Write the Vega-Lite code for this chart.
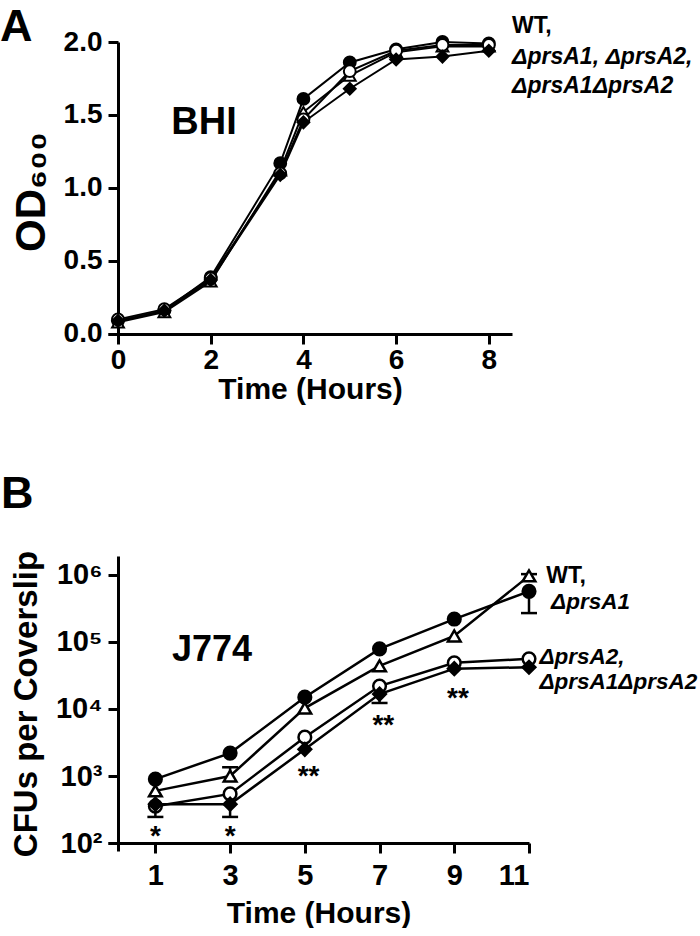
{
  "$schema": "https://vega.github.io/schema/vega-lite/v6.json",
  "background": "white",
  "padding": {"left": 0, "top": 4, "right": 0, "bottom": 0},
  "datasets": {
    "growth": [
      {"x": 0, "y": 0.09, "strain": "WT"}, {"x": 1, "y": 0.16, "strain": "WT"}, {"x": 2, "y": 0.39, "strain": "WT"}, {"x": 3.5, "y": 1.17, "strain": "WT"}, {"x": 4, "y": 1.61, "strain": "WT"}, {"x": 5, "y": 1.86, "strain": "WT"}, {"x": 6, "y": 1.95, "strain": "WT"}, {"x": 7, "y": 2.0, "strain": "WT"}, {"x": 8, "y": 1.99, "strain": "WT"},
      {"x": 0, "y": 0.08, "strain": "ΔprsA1"}, {"x": 1, "y": 0.15, "strain": "ΔprsA1"}, {"x": 2, "y": 0.36, "strain": "ΔprsA1"}, {"x": 3.5, "y": 1.12, "strain": "ΔprsA1"}, {"x": 4, "y": 1.52, "strain": "ΔprsA1"}, {"x": 5, "y": 1.77, "strain": "ΔprsA1"}, {"x": 6, "y": 1.93, "strain": "ΔprsA1"}, {"x": 7, "y": 1.97, "strain": "ΔprsA1"}, {"x": 8, "y": 1.97, "strain": "ΔprsA1"},
      {"x": 0, "y": 0.1, "strain": "ΔprsA2"}, {"x": 1, "y": 0.17, "strain": "ΔprsA2"}, {"x": 2, "y": 0.38, "strain": "ΔprsA2"}, {"x": 3.5, "y": 1.1, "strain": "ΔprsA2"}, {"x": 4, "y": 1.47, "strain": "ΔprsA2"}, {"x": 5, "y": 1.8, "strain": "ΔprsA2"}, {"x": 6, "y": 1.94, "strain": "ΔprsA2"}, {"x": 7, "y": 1.98, "strain": "ΔprsA2"}, {"x": 8, "y": 1.98, "strain": "ΔprsA2"},
      {"x": 0, "y": 0.09, "strain": "ΔprsA1ΔprsA2"}, {"x": 1, "y": 0.16, "strain": "ΔprsA1ΔprsA2"}, {"x": 2, "y": 0.37, "strain": "ΔprsA1ΔprsA2"}, {"x": 3.5, "y": 1.09, "strain": "ΔprsA1ΔprsA2"}, {"x": 4, "y": 1.45, "strain": "ΔprsA1ΔprsA2"}, {"x": 5, "y": 1.68, "strain": "ΔprsA1ΔprsA2"}, {"x": 6, "y": 1.88, "strain": "ΔprsA1ΔprsA2"}, {"x": 7, "y": 1.9, "strain": "ΔprsA1ΔprsA2"}, {"x": 8, "y": 1.94, "strain": "ΔprsA1ΔprsA2"}
    ],
    "cfu": [
      {"x": 1, "y": 900, "strain": "WT"}, {"x": 3, "y": 2200, "strain": "WT"}, {"x": 5, "y": 15000, "strain": "WT"}, {"x": 7, "y": 79000, "strain": "WT"}, {"x": 9, "y": 220000, "strain": "WT"}, {"x": 11, "y": 570000, "strain": "WT"},
      {"x": 1, "y": 600, "strain": "ΔprsA1"}, {"x": 3, "y": 1000, "strain": "ΔprsA1"}, {"x": 5, "y": 10300, "strain": "ΔprsA1"}, {"x": 7, "y": 44000, "strain": "ΔprsA1"}, {"x": 9, "y": 123000, "strain": "ΔprsA1"}, {"x": 11, "y": 970000, "strain": "ΔprsA1"},
      {"x": 1, "y": 355, "strain": "ΔprsA2"}, {"x": 3, "y": 540, "strain": "ΔprsA2"}, {"x": 5, "y": 3800, "strain": "ΔprsA2"}, {"x": 7, "y": 22000, "strain": "ΔprsA2"}, {"x": 9, "y": 49000, "strain": "ΔprsA2"}, {"x": 11, "y": 56000, "strain": "ΔprsA2"},
      {"x": 1, "y": 380, "strain": "ΔprsA1ΔprsA2"}, {"x": 3, "y": 380, "strain": "ΔprsA1ΔprsA2"}, {"x": 5, "y": 2500, "strain": "ΔprsA1ΔprsA2"}, {"x": 7, "y": 16700, "strain": "ΔprsA1ΔprsA2"}, {"x": 9, "y": 40000, "strain": "ΔprsA1ΔprsA2"}, {"x": 11, "y": 42000, "strain": "ΔprsA1ΔprsA2"}
    ],
    "err": [
      {"x": 1, "y": 380, "y2": 245, "strain": "ΔprsA1ΔprsA2"},
      {"x": 3, "y": 380, "y2": 245, "strain": "ΔprsA1ΔprsA2"},
      {"x": 3, "y": 1000, "y2": 1350, "strain": "ΔprsA1"},
      {"x": 7, "y": 16700, "y2": 12300, "strain": "ΔprsA1ΔprsA2"},
      {"x": 11, "y": 570000, "y2": 270000, "strain": "WT"},
      {"x": 11, "y": 970000, "y2": 1030000, "strain": "ΔprsA1"}
    ]
  },
  "config": {
    "font": "Liberation Sans",
    "view": {"stroke": null},
    "axis": {
      "domainColor": "black", "domainWidth": 3, "tickColor": "black", "tickWidth": 3, "tickSize": 10,
      "labelFont": "Liberation Sans", "labelFontWeight": "bold", "labelColor": "black",
      "titleFont": "Liberation Sans", "titleFontWeight": "bold", "titleColor": "black", "grid": false
    }
  },
  "resolve": {"scale": {"x": "independent", "y": "independent"}},
  "bounds": "flush",
  "spacing": 215,
  "vconcat": [
    {
      "width": 404,
      "height": 299,
      "layer": [
        {
          "data": {"name": "growth"},
          "mark": {"type": "line", "color": "black", "strokeWidth": 2},
          "encoding": {
            "x": {"field": "x", "type": "quantitative", "scale": {"domain": [-0.216, 8.5], "nice": false, "zero": false},
              "axis": {"values": [0, 2, 4, 6, 8], "offset": -7, "title": "Time (Hours)", "labelFontSize": 28, "labelPadding": 2, "titleFontSize": 30, "titlePadding": 0}},
            "y": {"field": "y", "type": "quantitative", "scale": {"domain": [-0.048, 2], "nice": false, "zero": false},
              "axis": {"values": [0, 0.5, 1, 1.5, 2], "offset": -10, "format": ".1f", "title": "OD₆₀₀", "titleFont": "Liberation Sans Narrow, Liberation Sans", "labelFontSize": 28, "labelPadding": 6, "titleFontSize": 42, "titlePadding": 10}},
            "detail": {"field": "strain"}
          }
        },
        {
          "data": {"name": "growth"},
          "mark": {"type": "point", "filled": true, "stroke": "black", "strokeWidth": 2, "size": 140, "opacity": 1},
          "encoding": {
            "x": {"field": "x", "type": "quantitative", "scale": {"domain": [-0.216, 8.5], "nice": false, "zero": false}},
            "y": {"field": "y", "type": "quantitative", "scale": {"domain": [-0.048, 2], "nice": false, "zero": false}},
            "shape": {"field": "strain", "type": "nominal", "scale": {"domain": ["WT", "ΔprsA1", "ΔprsA2", "ΔprsA1ΔprsA2"], "range": ["circle", "triangle-up", "circle", "diamond"]}, "legend": null},
            "fill": {"field": "strain", "type": "nominal", "scale": {"domain": ["WT", "ΔprsA1", "ΔprsA2", "ΔprsA1ΔprsA2"], "range": ["black", "white", "white", "black"]}, "legend": null}
          }
        },
        {
          "data": {"values": [{"x": -2.546, "y": 2.007, "label": "A"}]},
          "mark": {"type": "text", "align": "left", "baseline": "alphabetic", "fontSize": 45, "fontWeight": "bold", "color": "black"},
          "encoding": {
            "x": {"field": "x", "type": "quantitative", "scale": {"domain": [-0.216, 8.5], "nice": false, "zero": false}},
            "y": {"field": "y", "type": "quantitative", "scale": {"domain": [-0.048, 2], "nice": false, "zero": false}},
            "text": {"field": "label"}
          }
        },
        {
          "data": {"values": [{"x": 1.855, "y": 1.37, "label": "BHI"}]},
          "mark": {"type": "text", "align": "center", "baseline": "alphabetic", "fontSize": 38, "fontWeight": "bold", "color": "black"},
          "encoding": {
            "x": {"field": "x", "type": "quantitative", "scale": {"domain": [-0.216, 8.5], "nice": false, "zero": false}},
            "y": {"field": "y", "type": "quantitative", "scale": {"domain": [-0.048, 2], "nice": false, "zero": false}},
            "text": {"field": "label"}
          }
        },
        {
          "data": {"values": [{"x": 8.5, "y": 2.062, "label": "WT,"}]},
          "mark": {"type": "text", "align": "left", "baseline": "alphabetic", "fontSize": 23, "fontWeight": "bold", "color": "black"},
          "encoding": {
            "x": {"field": "x", "type": "quantitative", "scale": {"domain": [-0.216, 8.5], "nice": false, "zero": false}},
            "y": {"field": "y", "type": "quantitative", "scale": {"domain": [-0.048, 2], "nice": false, "zero": false}},
            "text": {"field": "label"}
          }
        },
        {
          "data": {"values": [{"x": 8.5, "y": 1.849, "label": "ΔprsA1, ΔprsA2,"}, {"x": 8.5, "y": 1.651, "label": "ΔprsA1ΔprsA2"}]},
          "mark": {"type": "text", "align": "left", "baseline": "alphabetic", "fontSize": 23, "fontWeight": "bold", "fontStyle": "italic", "color": "black"},
          "encoding": {
            "x": {"field": "x", "type": "quantitative", "scale": {"domain": [-0.216, 8.5], "nice": false, "zero": false}},
            "y": {"field": "y", "type": "quantitative", "scale": {"domain": [-0.048, 2], "nice": false, "zero": false}},
            "text": {"field": "label"}
          }
        }
      ]
    },
    {
      "width": 421,
      "height": 295,
      "layer": [
        {
          "data": {"name": "cfu"},
          "mark": {"type": "line", "color": "black", "strokeWidth": 2.5},
          "encoding": {
            "x": {"field": "x", "type": "quantitative", "scale": {"domain": [-0.268, 11], "nice": false, "zero": false},
              "axis": {"values": [1, 3, 5, 7, 9, 11], "offset": -8, "title": "Time (Hours)", "labelFontSize": 29, "labelPadding": 8, "titleFontSize": 30, "titlePadding": 8}},
            "y": {"field": "y", "type": "quantitative", "scale": {"type": "log", "domain": [76, 1920000], "nice": false},
              "axis": {"values": [100, 1000, 10000, 100000, 1000000], "offset": -10, "labelExpr": "datum.value == 100 ? '10²' : datum.value == 1000 ? '10³' : datum.value == 10000 ? '10⁴' : datum.value == 100000 ? '10⁵' : '10⁶'", "title": "CFUs per Coverslip", "labelFontSize": 29, "labelPadding": 6, "titleFontSize": 33, "titlePadding": 12}},
            "detail": {"field": "strain"}
          }
        },
        {
          "data": {"name": "err"},
          "mark": {"type": "rule", "color": "black", "strokeWidth": 2.5},
          "encoding": {
            "x": {"field": "x", "type": "quantitative", "scale": {"domain": [-0.268, 11], "nice": false, "zero": false}},
            "y": {"field": "y", "type": "quantitative", "scale": {"type": "log", "domain": [76, 1920000], "nice": false}},
            "y2": {"field": "y2"}
          }
        },
        {
          "data": {"name": "err"},
          "mark": {"type": "tick", "orient": "horizontal", "color": "black", "thickness": 2.5, "size": 16, "opacity": 1},
          "encoding": {
            "x": {"field": "x", "type": "quantitative", "scale": {"domain": [-0.268, 11], "nice": false, "zero": false}},
            "y": {"field": "y2", "type": "quantitative", "scale": {"type": "log", "domain": [76, 1920000], "nice": false}}
          }
        },
        {
          "data": {"name": "cfu"},
          "mark": {"type": "point", "filled": true, "stroke": "black", "strokeWidth": 2.5, "size": 160, "opacity": 1},
          "encoding": {
            "x": {"field": "x", "type": "quantitative", "scale": {"domain": [-0.268, 11], "nice": false, "zero": false}},
            "y": {"field": "y", "type": "quantitative", "scale": {"type": "log", "domain": [76, 1920000], "nice": false}},
            "shape": {"field": "strain", "type": "nominal", "scale": {"domain": ["WT", "ΔprsA1", "ΔprsA2", "ΔprsA1ΔprsA2"], "range": ["circle", "triangle-up", "circle", "diamond"]}, "legend": null},
            "fill": {"field": "strain", "type": "nominal", "scale": {"domain": ["WT", "ΔprsA1", "ΔprsA2", "ΔprsA1ΔprsA2"], "range": ["black", "white", "white", "black"]}, "legend": null}
          }
        },
        {
          "data": {"values": [{"x": -3.132, "y": 10000000, "label": "B"}]},
          "mark": {"type": "text", "align": "left", "baseline": "alphabetic", "fontSize": 45, "fontWeight": "bold", "color": "black"},
          "encoding": {
            "x": {"field": "x", "type": "quantitative", "scale": {"domain": [-0.268, 11], "nice": false, "zero": false}},
            "y": {"field": "y", "type": "quantitative", "scale": {"type": "log", "domain": [76, 1920000], "nice": false}},
            "text": {"field": "label"}
          }
        },
        {
          "data": {"values": [{"x": 2.516, "y": 52000, "label": "J774"}]},
          "mark": {"type": "text", "align": "center", "baseline": "alphabetic", "fontSize": 36, "fontWeight": "bold", "color": "black"},
          "encoding": {
            "x": {"field": "x", "type": "quantitative", "scale": {"domain": [-0.268, 11], "nice": false, "zero": false}},
            "y": {"field": "y", "type": "quantitative", "scale": {"type": "log", "domain": [76, 1920000], "nice": false}},
            "text": {"field": "label"}
          }
        },
        {
          "data": {"values": [{"x": 11.46, "y": 760000, "label": "WT,"}]},
          "mark": {"type": "text", "align": "left", "baseline": "alphabetic", "fontSize": 23, "fontWeight": "bold", "color": "black"},
          "encoding": {
            "x": {"field": "x", "type": "quantitative", "scale": {"domain": [-0.268, 11], "nice": false, "zero": false}},
            "y": {"field": "y", "type": "quantitative", "scale": {"type": "log", "domain": [76, 1920000], "nice": false}},
            "text": {"field": "label"}
          }
        },
        {
          "data": {"values": [{"x": 11.59, "y": 311000, "label": "ΔprsA1"}, {"x": 11.28, "y": 47000, "label": "ΔprsA2,"}, {"x": 11.28, "y": 19900, "label": "ΔprsA1ΔprsA2"}]},
          "mark": {"type": "text", "align": "left", "baseline": "alphabetic", "fontSize": 22.5, "fontWeight": "bold", "fontStyle": "italic", "color": "black"},
          "encoding": {
            "x": {"field": "x", "type": "quantitative", "scale": {"domain": [-0.268, 11], "nice": false, "zero": false}},
            "y": {"field": "y", "type": "quantitative", "scale": {"type": "log", "domain": [76, 1920000], "nice": false}},
            "text": {"field": "label"}
          }
        },
        {
          "data": {"values": [{"x": 1, "y": 93, "label": "*"}, {"x": 3, "y": 93, "label": "*"}, {"x": 5.1, "y": 735, "label": "**"}, {"x": 7.1, "y": 4240, "label": "**"}, {"x": 9.1, "y": 10700, "label": "**"}]},
          "mark": {"type": "text", "align": "center", "baseline": "alphabetic", "fontSize": 28, "fontWeight": "bold", "color": "black"},
          "encoding": {
            "x": {"field": "x", "type": "quantitative", "scale": {"domain": [-0.268, 11], "nice": false, "zero": false}},
            "y": {"field": "y", "type": "quantitative", "scale": {"type": "log", "domain": [76, 1920000], "nice": false}},
            "text": {"field": "label"}
          }
        }
      ]
    }
  ]
}
